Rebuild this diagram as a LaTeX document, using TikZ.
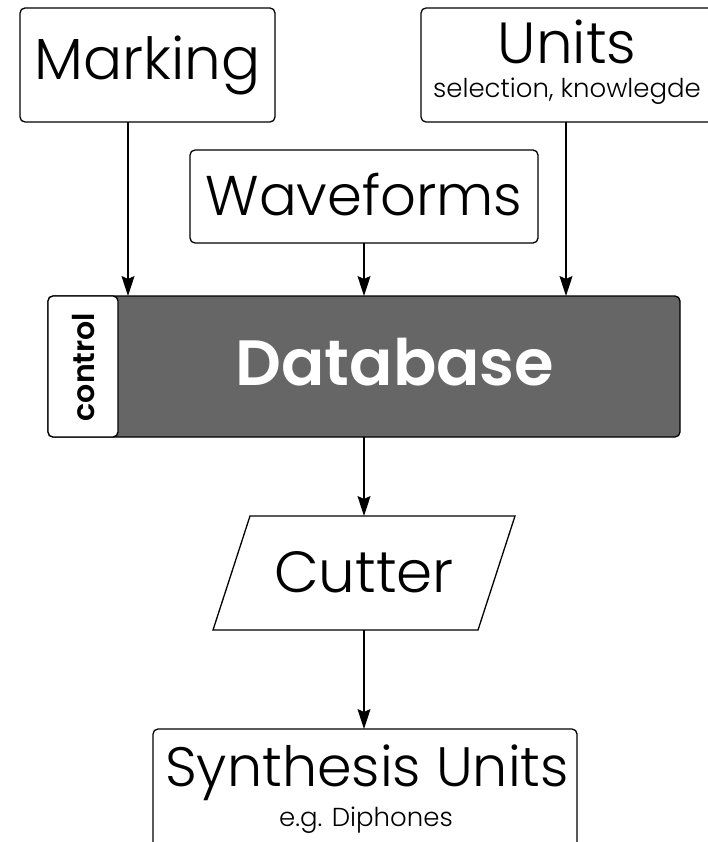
\documentclass[tikz,border=0pt]{standalone}
\usepackage{fontspec}
\setmainfont{Poppins}[UprightFont=* Light, BoldFont=* SemiBold]
\usetikzlibrary{arrows.meta,shapes.geometric}
\tikzset{
  box/.style={draw, line width=1.3pt, rounded corners=5pt, fill=white, inner sep=0pt},
  link/.style={line width=1.1pt, -{Stealth[length=20pt,width=13pt,inset=3pt]}},
  big/.style={font=\fontsize{58}{58}\selectfont},
  small/.style={font=\fontsize{26}{28}\selectfont},
}
\begin{document}
\begin{tikzpicture}[x=1pt,y=-1pt]
\useasboundingbox (0,0) rectangle (708,842);

% source boxes
\draw[box] (20,8) rectangle (275,122);
\node[big] (marking) at (147.5,65) {Marking};
\coordinate (markingS) at (128,122);

\draw[box] (190,150) rectangle (538,243);
\node[big, font=\fontsize{56}{56}\selectfont] (wave) at (364,195) {Waveforms};
\coordinate (waveS) at (364,243);

\draw[box] (421,8) rectangle (730,122);
\node[big] (units) at (567,42) {Units};
\node[small] (unitsnote) at (567,91) {selection, knowlegde};
\coordinate (unitsS) at (566,122);

% database with control strip
\draw[box, fill={rgb,255:red,102;green,102;blue,102}] (48,296) rectangle (680,437);
\draw[box] (48,296) rectangle (118,437);
\node[rotate=90, font=\fontsize{30}{30}\selectfont\bfseries] (control) at (84,367) {control};
\node[font=\fontsize{64}{64}\selectfont\bfseries, text=white] (db) at (395,362) {Database};
\coordinate (dbN1) at (128,296);
\coordinate (dbN2) at (364,296);
\coordinate (dbN3) at (566,296);
\coordinate (dbS) at (364,437);

% cutter
\draw[line width=1.3pt, fill=white] (250,516) -- (515,516) -- (478,630) -- (213,630) -- cycle;
\node[big] (cutter) at (364,572) {Cutter};
\coordinate (cutN) at (364,516);
\coordinate (cutS) at (364,630);

% synthesis units
\draw[box] (153,729) rectangle (577,880);
\node[big, font=\fontsize{55.5}{55.5}\selectfont] (synth) at (367,773) {Synthesis Units};
\node[small] (synthnote) at (366,820) {e.g. Diphones};
\coordinate (synN) at (364,729);

% connectors
\draw[link] (markingS) -- (dbN1);
\draw[link] (waveS) -- (dbN2);
\draw[link] (unitsS) -- (dbN3);
\draw[link] (dbS) -- (cutN);
\draw[link] (cutS) -- (synN);
\end{tikzpicture}
\end{document}
